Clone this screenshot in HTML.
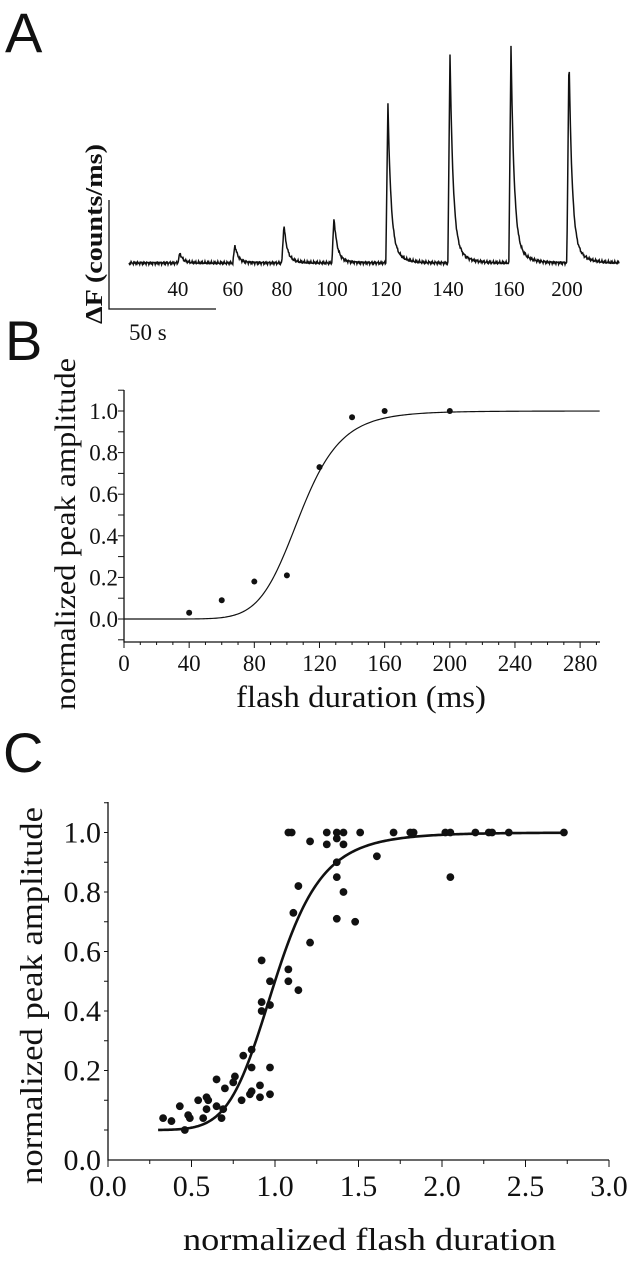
<!DOCTYPE html>
<html><head><meta charset="utf-8">
<style>
html,body{margin:0;padding:0;background:#fff;}
svg{display:block;}
text{font-family:"Liberation Serif",serif;fill:#111;}
.lt{font-family:"Liberation Sans",sans-serif;font-weight:normal;fill:#111;}
</style></head>
<body>
<svg id="fig" width="631" height="1280" viewBox="0 0 631 1280" xmlns="http://www.w3.org/2000/svg">
  <text class="lt" x="5" y="52" font-size="56">A</text>
  <text class="lt" x="5" y="360" font-size="56">B</text>
  <text class="lt" x="3" y="772" font-size="56">C</text>
  <g id="pa"></g>
  <g id="pb"></g>
  <g id="pc"></g>
</svg>
<script>
// ---------- Panel A data ----------
const aFlashLabels = ["40","60","80","100","120","140","160","200"];
const aPeakTimes = [23.8, 49.5, 72.4, 95.8, 121, 150, 178.5, 205.6];   // s
const aPeakAmps = [10, 18, 39, 46, 160, 210, 218, 210];                 // arbitrary ΔF units
// ---------- Panel B data ----------
const bDurations = [40, 60, 80, 100, 120, 140, 160, 200];
const bAmplitudes = [0.03, 0.09, 0.18, 0.21, 0.73, 0.97, 1.0, 1.0];
const bXTicks = [0, 40, 80, 120, 160, 200, 240, 280];
const bYTicks = [0.0, 0.2, 0.4, 0.6, 0.8, 1.0];
const bFitK = 108, bFitN = 8.5;
// ---------- Panel C data ----------
const cDurations = [0.33,0.38,0.43,0.46,0.48,0.49,0.54,0.57,0.59,0.59,0.60,0.65,0.65,0.70,0.69,0.68,0.76,0.75,0.80,0.81,0.86,0.86,0.86,0.85,0.91,0.91,0.92,0.92,0.92,0.97,0.97,0.97,0.97,1.08,1.08,1.14,1.08,1.10,1.11,1.14,1.21,1.21,1.31,1.31,1.37,1.37,1.37,1.37,1.37,1.41,1.41,1.41,1.48,1.51,1.61,1.71,1.81,1.83,2.02,2.05,2.05,2.20,2.28,2.30,2.40,2.73];
const cAmplitudes = [0.04,0.03,0.08,0.00,0.05,0.04,0.10,0.04,0.11,0.07,0.10,0.17,0.08,0.14,0.07,0.04,0.18,0.16,0.10,0.25,0.27,0.21,0.13,0.12,0.15,0.11,0.57,0.43,0.40,0.50,0.42,0.21,0.12,0.54,0.50,0.47,1.0,1.0,0.73,0.82,0.63,0.97,1.0,0.96,1.0,0.98,0.90,0.85,0.71,1.0,0.96,0.80,0.70,1.0,0.92,1.0,1.0,1.0,1.0,1.0,0.85,1.0,1.0,1.0,1.0,1.0];
const cXTicks = [0.0, 0.5, 1.0, 1.5, 2.0, 2.5, 3.0];
const cYTicks = [-0.1, 0.2, 0.4, 0.6, 0.8, 1.0];
const cYTickLabels = ["0.0","0.2","0.4","0.6","0.8","1.0"];
const cFitK = 1.0, cFitN = 7;

const NS = "http://www.w3.org/2000/svg";
function mk(parent, tag, attrs, txt){
  const e = document.createElementNS(NS, tag);
  for (const k in attrs) e.setAttribute(k, attrs[k]);
  if (txt !== undefined) e.textContent = txt;
  parent.appendChild(e);
  return e;
}

// ===== Panel A =====
(function(){
  const g = document.getElementById('pa');
  const x0 = 129, pxPerS = 2.14, base = 263, tEnd = 229;
  const xA = t => x0 + t * pxPerS;
  const yA = v => base - v;
  let d = "";
  for (let t = 0; t <= tEnd; t += 0.25) {
    let v = 0;
    for (let i = 0; i < aPeakTimes.length; i++) {
      const dt = t - aPeakTimes[i];
      if (dt > -1 && dt <= 0) v += aPeakAmps[i] * (dt + 1);
      else if (dt > 0) v += aPeakAmps[i] * (0.88 * Math.exp(-dt / 1.4) + 0.12 * Math.exp(-dt / 5));
    }
    const jitter = 1.6 * Math.sin(t * 7.3) * Math.cos(t * 3.1);
    d += (d ? "L" : "M") + xA(t).toFixed(2) + "," + (yA(v) + jitter).toFixed(2);
  }
  const p = mk(g, 'path', {d: d, fill: 'none', stroke: '#111', 'stroke-width': 1.5});
  
  
  aFlashLabels.forEach((lab, i) => {
    const t = mk(g, 'text', {x: xA(aPeakTimes[i]) - 2, y: 296, 'font-size': 21, 'text-anchor': 'middle'}, lab);
    
    
  });
  const sb = mk(g, 'path', {d: 'M109,200 L109,309 L216,309', fill: 'none', stroke: '#111', 'stroke-width': 1.3});
  
  
  const yl = mk(g, 'text', {x: 0, y: 0, 'font-size': 24, 'font-weight': 'bold', transform: 'translate(102,324) rotate(-90)', textLength: 180, lengthAdjust: 'spacingAndGlyphs'}, 'ΔF (counts/ms)');
  
  
  const xl = mk(g, 'text', {x: 129, y: 340, 'font-size': 23}, '50 s');
  
  
})();

// ===== Panel B =====
(function(){
  const g = document.getElementById('pb');
  const xB = v => 124 + v * 1.629;
  const yB = v => 619 - v * 208;
  const axis = mk(g, 'path', {d: `M124,390 L124,642 L600,642`, fill: 'none', stroke: '#111', 'stroke-width': 1.3});
  
  
  for (let v = 0; v <= 290; v += 10) {
    const major = v % 40 === 0;
    mk(g, 'line', {x1: xB(v), x2: xB(v), y1: 642, y2: major ? 648 : 645, stroke: '#111', 'stroke-width': 1});
  }
  for (let v = -0.1; v <= 1.1; v += 0.1) {
    mk(g, 'line', {x1: 124, x2: 118, y1: yB(v), y2: yB(v), stroke: '#111', 'stroke-width': 1});
  }
  bXTicks.forEach(v => {
    const t = mk(g, 'text', {x: xB(v), y: 671, 'font-size': 23, 'text-anchor': 'middle'}, String(v));
    
    
  });
  bYTicks.forEach(v => {
    const t = mk(g, 'text', {x: 118, y: yB(v) + 8, 'font-size': 23, 'text-anchor': 'end'}, v.toFixed(1));
    
    
  });
  let d = "";
  for (let v = 0; v <= 292; v += 1) {
    const y = Math.pow(v, bFitN) / (Math.pow(v, bFitN) + Math.pow(bFitK, bFitN));
    d += (d ? "L" : "M") + xB(v).toFixed(2) + "," + yB(y).toFixed(2);
  }
  const fit = mk(g, 'path', {d: d, fill: 'none', stroke: '#111', 'stroke-width': 1.2});
  
  
  bDurations.forEach((v, i) => {
    const c = mk(g, 'circle', {cx: xB(v), cy: yB(bAmplitudes[i]), r: 3, fill: '#111'});
    
    
  });
  const yl = mk(g, 'text', {x: 0, y: 0, 'font-size': 30, transform: 'translate(75,710) rotate(-90)', textLength: 352, lengthAdjust: 'spacingAndGlyphs'}, 'normalized peak amplitude');
  
  
  const xl = mk(g, 'text', {x: 236, y: 707, 'font-size': 31, textLength: 250, lengthAdjust: 'spacingAndGlyphs'}, 'flash duration (ms)');
  
  
})();

// ===== Panel C =====
(function(){
  const g = document.getElementById('pc');
  const xC = v => 108 + v * 167;
  const yC = v => 1130 - v * 297.5;
  const axis = mk(g, 'path', {d: `M108,802 L108,1160 L609,1160`, fill: 'none', stroke: '#111', 'stroke-width': 1.3});
  
  
  for (let v = 0; v <= 3.001; v += 0.25) {
    const major = Math.abs(v * 2 - Math.round(v * 2)) < 1e-6;
    mk(g, 'line', {x1: xC(v), x2: xC(v), y1: 1160, y2: major ? 1167 : 1164, stroke: '#111', 'stroke-width': 1});
  }
  for (let v = 0; v <= 1.101; v += 0.1) {
    mk(g, 'line', {x1: 108, x2: 104, y1: yC(v), y2: yC(v), stroke: '#111', 'stroke-width': 1});
  }
  cXTicks.forEach(v => {
    const t = mk(g, 'text', {x: xC(v), y: 1196, 'font-size': 30, 'text-anchor': 'middle'}, v.toFixed(1));
    
    
  });
  cYTicks.forEach((v, i) => {
    const t = mk(g, 'text', {x: 101, y: yC(v) + 10, 'font-size': 30, 'text-anchor': 'end'}, cYTickLabels[i]);
    
    
  });
  let d = "";
  for (let v = 0.3; v <= 2.735; v += 0.01) {
    const y = Math.pow(v, cFitN) / (Math.pow(v, cFitN) + Math.pow(cFitK, cFitN));
    d += (d ? "L" : "M") + xC(v).toFixed(2) + "," + yC(y).toFixed(2);
  }
  const fit = mk(g, 'path', {d: d, fill: 'none', stroke: '#111', 'stroke-width': 2.6});
  
  
  cDurations.forEach((v, i) => {
    const c = mk(g, 'circle', {cx: xC(v), cy: yC(cAmplitudes[i]), r: 3.9, fill: '#111'});
    
    
  });
  const yl = mk(g, 'text', {x: 0, y: 0, 'font-size': 32, transform: 'translate(42,1184) rotate(-90)', textLength: 377, lengthAdjust: 'spacingAndGlyphs'}, 'normalized peak amplitude');
  
  
  const xl = mk(g, 'text', {x: 183, y: 1250, 'font-size': 32, textLength: 373, lengthAdjust: 'spacingAndGlyphs'}, 'normalized flash duration');
  
  
})();
</script>
</body></html>
